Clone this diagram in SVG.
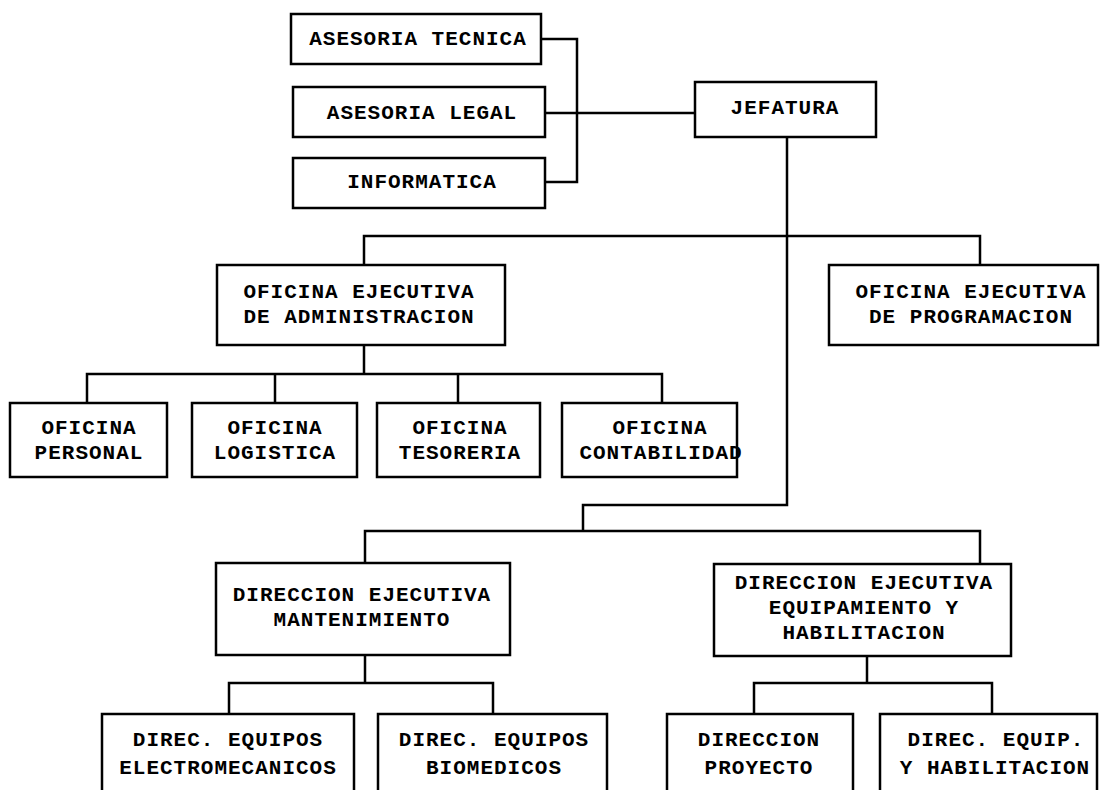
<svg xmlns="http://www.w3.org/2000/svg" width="1101" height="790" viewBox="0 0 1101 790">
<style>
.box{fill:#fff;stroke:#000;stroke-width:2.5}
.ln{fill:none;stroke:#000;stroke-width:2.5;stroke-linecap:square}
text{font-family:"Liberation Mono","Courier New",monospace;font-weight:bold;font-size:21px;letter-spacing:1px;text-anchor:middle;dominant-baseline:central;fill:#000}
</style>
<rect width="1101" height="790" fill="#fff"/>
<g id="connectors">
<path class="ln" d="M541,39 H577 V182 H545 M545,113 H695"/>
<path class="ln" d="M787,137 V505 H583 V531 M365,531 H980 M365,531 V563 M980,531 V564"/>
<path class="ln" d="M364,236 H980 M364,236 V265 M980,236 V265"/>
<path class="ln" d="M364,345 V374 M87,374 H662 M87,374 V403 M275,374 V403 M458,374 V403 M662,374 V403"/>
<path class="ln" d="M365,655 V683 M229,683 H493 M229,683 V714 M493,683 V714"/>
<path class="ln" d="M867,656 V683 M754,683 H992 M754,683 V714 M992,683 V714"/>
</g>
<g id="asesoria-tecnica"><rect class="box" x="291" y="14" width="250" height="50"/><text x="418" y="39">ASESORIA TECNICA</text></g>
<g id="asesoria-legal"><rect class="box" x="293" y="87" width="252" height="50"/><text x="422" y="113">ASESORIA LEGAL</text></g>
<g id="informatica"><rect class="box" x="293" y="158" width="252" height="50"/><text x="422" y="182">INFORMATICA</text></g>
<g id="jefatura"><rect class="box" x="695" y="82" width="181" height="55"/><text x="785" y="108">JEFATURA</text></g>
<g id="oe-administracion"><rect class="box" x="217" y="265" width="288" height="80"/><text x="359" y="292">OFICINA EJECUTIVA</text><text x="359" y="317">DE ADMINISTRACION</text></g>
<g id="oe-programacion"><rect class="box" x="829" y="265" width="269" height="80"/><text x="971" y="292">OFICINA EJECUTIVA</text><text x="971" y="317">DE PROGRAMACION</text></g>
<g id="of-personal"><rect class="box" x="10" y="403" width="157" height="74"/><text x="89" y="428">OFICINA</text><text x="89" y="453">PERSONAL</text></g>
<g id="of-logistica"><rect class="box" x="192" y="403" width="165" height="74"/><text x="275" y="428">OFICINA</text><text x="275" y="453">LOGISTICA</text></g>
<g id="of-tesoreria"><rect class="box" x="377" y="403" width="163" height="74"/><text x="460" y="428">OFICINA</text><text x="460" y="453">TESORERIA</text></g>
<g id="of-contabilidad"><rect class="box" x="562" y="403" width="175" height="74"/><text x="660" y="428">OFICINA</text><text x="661" y="453">CONTABILIDAD</text></g>
<g id="de-mantenimiento"><rect class="box" x="216" y="563" width="294" height="92"/><text x="362" y="595">DIRECCION EJECUTIVA</text><text x="362" y="620">MANTENIMIENTO</text></g>
<g id="de-equipamiento"><rect class="box" x="714" y="564" width="297" height="92"/><text x="864" y="583">DIRECCION EJECUTIVA</text><text x="864" y="608">EQUIPAMIENTO Y</text><text x="864" y="633">HABILITACION</text></g>
<g id="d-electromecanicos"><rect class="box" x="102" y="714" width="252" height="100"/><text x="228" y="740">DIREC. EQUIPOS</text><text x="228" y="768">ELECTROMECANICOS</text></g>
<g id="d-biomedicos"><rect class="box" x="378" y="714" width="229" height="100"/><text x="494" y="740">DIREC. EQUIPOS</text><text x="494" y="768">BIOMEDICOS</text></g>
<g id="d-proyecto"><rect class="box" x="667" y="714" width="186" height="100"/><text x="759" y="740">DIRECCION</text><text x="759" y="768">PROYECTO</text></g>
<g id="d-equip-habilitacion"><rect class="box" x="880" y="714" width="217" height="100"/><text x="996" y="740">DIREC. EQUIP.</text><text x="995" y="768">Y HABILITACION</text></g>
</svg>
